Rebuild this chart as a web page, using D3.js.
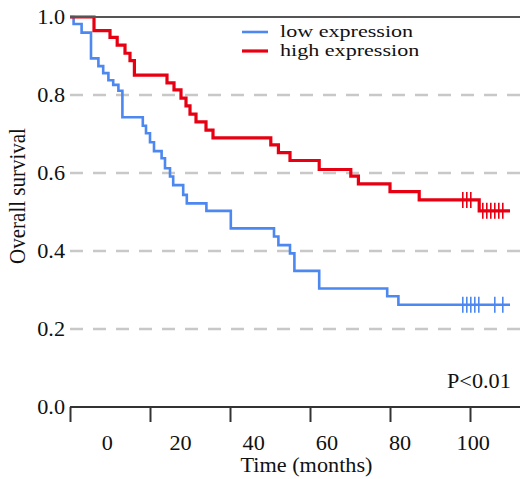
<!DOCTYPE html>
<html><head><meta charset="utf-8">
<script src="https://d3js.org/d3.v7.min.js"></script>
<style>body{margin:0;background:#fff}svg{display:block}</style>
</head><body><svg id="c" width="520" height="479"></svg>
<script>
// ---- data (time in months, survival proportion) ----
const lowTimes = [0, 0.9, 2.9, 5.25, 7.1, 8.3, 9.6, 10.8, 12.1, 13.1, 18.2, 19, 20, 21, 22.9, 23.75, 25, 25.8, 28.3, 29.2, 34.1, 40.2, 51, 52.1, 55, 56.1, 62.3, 79.3, 82.1, 110];
const lowSurv  = [1.0, 0.982, 0.960, 0.894, 0.874, 0.856, 0.838, 0.826, 0.811, 0.743, 0.721, 0.702, 0.679, 0.656, 0.638, 0.612, 0.591, 0.569, 0.544, 0.522, 0.503, 0.458, 0.437, 0.415, 0.394, 0.349, 0.304, 0.284, 0.262, 0.262];
const lowCensor = [98.2, 99.2, 100.2, 101.2, 102.2, 106.2, 108.2];

const highTimes = [0, 6, 10, 11.8, 13.75, 15, 16.1, 24.25, 26, 27.75, 29, 30, 31.5, 34, 35.75, 50.2, 52.1, 55, 62.3, 70.2, 72.1, 80, 87.3, 102.3, 110];
const highSurv  = [1.0, 0.965, 0.948, 0.928, 0.907, 0.888, 0.851, 0.831, 0.813, 0.792, 0.772, 0.751, 0.731, 0.710, 0.690, 0.672, 0.652, 0.632, 0.609, 0.592, 0.572, 0.552, 0.531, 0.503, 0.503];
const highCensor = [98.2, 99.2, 100.2, 103.2, 104.2, 105.2, 106.2, 107.2, 108.2];

const xTicks = [0, 20, 40, 60, 80, 100];
const yTicks = [0.0, 0.2, 0.4, 0.6, 0.8, 1.0];
const gridVals = [0.2, 0.4, 0.6, 0.8];
const seriesNames = ["low expression", "high expression"];
const seriesColors = ["#4d87f0", "#e60012"];
const pText = "P<0.01";

// ---- layout ----
const svg = d3.select("#c");
const FONT = "'Liberation Serif','Times New Roman',serif";
const FS = 21, SX = 1.06;
const x = d3.scaleLinear().domain([0, 110]).range([70, 510]);
const xLab = d3.scaleLinear().domain([0, 100]).range([107.3, 473.3]);
const y = d3.scaleLinear().domain([0, 1]).range([407, 17]);

function txt(g, s, tx, ty, anchor, rot, fs, sx) {
  const k = sx || SX;
  const t = g.append("g").attr("transform", `translate(${tx},${ty})` + (rot ? ` rotate(${rot}) scale(1,${k})` : ` scale(${k},1)`));
  t.append("text").text(s).attr("font-family", FONT).attr("font-size", fs || FS)
    .attr("fill", "#111").attr("text-anchor", anchor || "start");
  return t;
}

// gridlines
svg.append("g").selectAll("line").data(gridVals).join("line")
  .attr("x1", 70).attr("x2", 520).attr("y1", d => y(d)).attr("y2", d => y(d))
  .attr("stroke", "#c8c8c8").attr("stroke-width", 2.5).attr("stroke-dasharray", "13,10");

// curves
const line = d3.line().x(d => x(d[0])).y(d => y(d[1])).curve(d3.curveStepAfter);
const series = [
  {t: lowTimes, s: lowSurv, c: lowCensor, col: seriesColors[0], w: 2.6},
  {t: highTimes, s: highSurv, c: highCensor, col: seriesColors[1], w: 3.2}
];
series.forEach(sr => {
  const pts = sr.t.map((t, i) => [t, sr.s[i]]);
  svg.append("path").attr("d", line(pts)).attr("fill", "none")
    .attr("stroke", sr.col).attr("stroke-width", sr.w);
  const survAt = t => { let v = sr.s[0]; sr.t.forEach((tt, i) => { if (tt <= t) v = sr.s[i]; }); return v; };
  svg.append("g").selectAll("line").data(sr.c).join("line")
    .attr("x1", d => x(d)).attr("x2", d => x(d))
    .attr("y1", d => y(survAt(d)) - 8).attr("y2", d => y(survAt(d)) + 8)
    .attr("stroke", sr.col).attr("stroke-width", 1.6);
});

// top frame line
svg.append("line").attr("x1", 70).attr("x2", 520).attr("y1", y(1)).attr("y2", y(1))
  .attr("stroke", "#555").attr("stroke-width", 2);

// x axis: line + tick marks
const xAxis = svg.append("g").attr("transform", "translate(0,407)")
  .call(d3.axisBottom(x).tickValues(xTicks).tickSize(15).tickFormat(""));
xAxis.select(".domain").attr("d", "M70,0H520").attr("stroke", "#333").attr("stroke-width", 2);
xAxis.selectAll(".tick line").attr("stroke", "#333").attr("stroke-width", 2);

// x tick labels
const xl = svg.append("g");
xTicks.forEach(v => txt(xl, d3.format("d")(v), xLab(v), 450, "middle"));
txt(svg, "Time (months)", 306.5, 472, "middle");

// y tick labels
const yl = svg.append("g");
yTicks.forEach(v => txt(yl, d3.format(".1f")(v), 65, y(v) + 7, "end"));

// y title
txt(svg, "Overall survival", 25, 196, "middle", -90);

// legend
const lg = svg.append("g");
seriesNames.forEach((n, i) => {
  const ly = 32 + i * 19;
  lg.append("line").attr("x1", 242).attr("x2", 268).attr("y1", ly).attr("y2", ly)
    .attr("stroke", seriesColors[i]).attr("stroke-width", i ? 3.2 : 2.6);
  txt(lg, n, 280, ly + 5, "start", 0, 17, 1.3);
});

// p value
txt(svg, pText, 447, 388, "start");
</script></body></html>
